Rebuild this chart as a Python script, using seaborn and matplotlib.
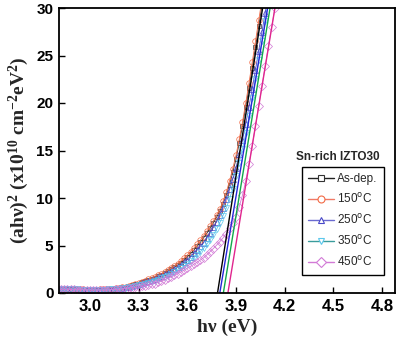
import numpy as np
import pandas as pd
import matplotlib
matplotlib.use("Agg")
import matplotlib.pyplot as plt
from matplotlib.lines import Line2D
import seaborn as sns

# Photon energy grid (eV) and Tauc-plot values (x10^10 cm^-2 eV^2)
energy = np.round(np.arange(2.80, 4.161, 0.02), 2)

as_dep = [0.45, 0.44, 0.43, 0.42, 0.41, 0.40, 0.39, 0.38, 0.37, 0.36,
          0.35, 0.35, 0.35, 0.36, 0.37, 0.39, 0.41, 0.44, 0.48, 0.53,
          0.58, 0.65, 0.73, 0.81, 0.90, 1.00, 1.11, 1.23, 1.35, 1.48,
          1.62, 1.77, 1.93, 2.10, 2.29, 2.48, 2.70, 2.94, 3.20, 3.48,
          3.80, 4.14, 4.50, 4.90, 5.33, 5.80, 6.28, 6.80, 7.36, 7.96,
          8.60, 9.40, 10.3, 11.4, 12.7, 14.1, 15.8, 17.6, 19.6, 21.6,
          23.7, 25.9, 28.1, 30.3, np.nan, np.nan, np.nan, np.nan, np.nan]

t150 = [0.45, 0.44, 0.43, 0.42, 0.41, 0.40, 0.39, 0.38, 0.37, 0.36,
        0.36, 0.36, 0.36, 0.37, 0.38, 0.40, 0.43, 0.46, 0.50, 0.55,
        0.60, 0.68, 0.76, 0.85, 0.95, 1.05, 1.17, 1.30, 1.43, 1.56,
        1.70, 1.86, 2.03, 2.20, 2.40, 2.60, 2.85, 3.10, 3.38, 3.68,
        4.00, 4.35, 4.72, 5.12, 5.55, 6.00, 6.50, 7.02, 7.58, 8.18,
        8.80, 9.65, 10.6, 11.8, 13.1, 14.5, 16.2, 18.0, 20.0, 22.1,
        24.3, 26.5, 28.7, 30.9, np.nan, np.nan, np.nan, np.nan, np.nan]

t250 = [0.44, 0.43, 0.42, 0.41, 0.40, 0.39, 0.38, 0.37, 0.36, 0.35,
        0.35, 0.34, 0.34, 0.35, 0.36, 0.38, 0.40, 0.43, 0.46, 0.50,
        0.55, 0.61, 0.68, 0.76, 0.85, 0.95, 1.05, 1.16, 1.27, 1.38,
        1.50, 1.64, 1.79, 1.95, 2.12, 2.30, 2.51, 2.74, 2.98, 3.24,
        3.50, 3.82, 4.17, 4.54, 4.92, 5.30, 5.80, 6.33, 6.90, 7.52,
        8.20, 9.00, 9.90, 10.9, 12.0, 13.2, 14.6, 16.1, 17.8, 19.6,
        21.5, 23.5, 25.5, 27.5, 29.5, 31.5, np.nan, np.nan, np.nan]

t350 = [0.43, 0.42, 0.41, 0.40, 0.39, 0.38, 0.37, 0.36, 0.35, 0.34,
        0.33, 0.33, 0.33, 0.33, 0.34, 0.35, 0.37, 0.39, 0.42, 0.46,
        0.50, 0.55, 0.61, 0.67, 0.73, 0.80, 0.89, 0.98, 1.08, 1.19,
        1.30, 1.42, 1.55, 1.69, 1.84, 2.00, 2.18, 2.37, 2.58, 2.83,
        3.10, 3.39, 3.70, 4.02, 4.35, 4.70, 5.14, 5.60, 6.10, 6.70,
        7.40, 8.15, 8.95, 9.90, 11.0, 12.3, 13.7, 15.2, 16.8, 18.6,
        20.5, 22.5, 24.5, 26.5, 28.6, 30.8, np.nan, np.nan, np.nan]

t450 = [0.42, 0.41, 0.40, 0.39, 0.38, 0.37, 0.36, 0.35, 0.34, 0.33,
        0.32, 0.31, 0.31, 0.31, 0.31, 0.32, 0.33, 0.35, 0.37, 0.40,
        0.43, 0.46, 0.50, 0.54, 0.58, 0.62, 0.69, 0.76, 0.84, 0.92,
        1.00, 1.12, 1.25, 1.39, 1.54, 1.70, 1.86, 2.03, 2.21, 2.40,
        2.60, 2.80, 3.02, 3.24, 3.47, 3.70, 4.02, 4.35, 4.68, 5.03,
        5.40, 5.80, 6.25, 6.80, 7.35, 8.00, 9.10, 10.3, 11.8, 13.6,
        15.5, 17.6, 19.7, 21.8, 23.9, 26.0, 28.0, 30.0, 32.0]

labels = ["As-dep.", "150$^{\\rm o}$C", "250$^{\\rm o}$C", "350$^{\\rm o}$C", "450$^{\\rm o}$C"]
series = [as_dep, t150, t250, t350, t450]
markers = ["s", "o", "^", "v", "D"]
marker_colors = ["#333333", "#f26a45", "#4848c8", "#5cc8ec", "#d27ad6"]
legend_line_colors = ["#222222", "#f07a66", "#6a6ad0", "#3a9c9c", "#d27ad6"]
marker_sizes = [3.4, 4.0, 4.0, 4.0, 3.8]

# Linear fits of the absorption edge: energy at zero and at 30
fit_low = [3.786, 3.800, 3.822, 3.850]
fit_high = [4.064, 4.095, 4.110, 4.140]
fit_y = [0, 30]
fit_colors = ["#000000", "#2525d8", "#12a84a", "#e0268e"]

sns.set_style("ticks")
plt.rcParams["font.family"] = ["Liberation Sans", "DejaVu Sans"]
plt.rcParams["mathtext.default"] = "regular"

fig = plt.figure(figsize=(4.0, 3.48), dpi=100)
ax = fig.add_axes([59 / 400, 1 - 293 / 348, 336 / 400, 285 / 348])

for vals, m, c, ms in zip(series, markers, marker_colors, marker_sizes):
    df = pd.DataFrame({"E": energy, "v": vals}).dropna()
    sns.lineplot(data=df, x="E", y="v", ax=ax, color=c, marker=m,
                 markersize=ms, markerfacecolor="none", markeredgecolor=c,
                 markeredgewidth=0.5, linewidth=0.6, estimator=None,
                 sort=False, legend=False)

for lo, hi, c in zip(fit_low, fit_high, fit_colors):
    sns.lineplot(x=[lo, hi], y=fit_y, ax=ax, color=c, linewidth=1.0,
                 estimator=None, sort=False, legend=False)

ax.set_xlim(2.809, 4.88)
ax.set_ylim(0, 30)
ax.set_xticks([3.0, 3.3, 3.6, 3.9, 4.2, 4.5, 4.8])
ax.set_yticks([0, 5, 10, 15, 20, 25, 30])
ax.set_xticklabels(["3.0", "3.3", "3.6", "3.9", "4.2", "4.5", "4.8"],
                   fontsize=12, fontweight="bold")
ax.set_yticklabels(["0", "5", "10", "15", "20", "25", "30"],
                   fontsize=11, fontweight="bold")
ax.tick_params(direction="in", length=4, width=1.0, pad=4, colors="black")
for s in ax.spines.values():
    s.set_visible(True)
    s.set_linewidth(1.3)
    s.set_color("black")

serif = {"family": ["Liberation Serif", "DejaVu Serif"], "weight": "bold", "size": 14}
ax.set_xlabel("h\u03bd (eV)", fontdict=serif, labelpad=4)
ax.set_ylabel("(ah\u03bd)$^2$ (x10$^{10}$ cm$^{-2}$eV$^2$)", fontdict=serif, labelpad=4)

handles = [Line2D([0], [0], color=lc, marker=m, markersize=5,
                  markerfacecolor="white", markeredgecolor=mc,
                  markeredgewidth=0.8, linewidth=1.0)
           for lc, mc, m in zip(legend_line_colors, marker_colors, markers)]
leg = ax.legend(handles, labels, loc="upper left",
                bbox_to_anchor=(302 / 400, 1 - 167 / 348),
                bbox_transform=fig.transFigure, borderaxespad=0,
                fontsize=8.5, frameon=True, fancybox=False, framealpha=1,
                edgecolor="black", handlelength=2.2, handletextpad=0.3,
                labelspacing=0.6, borderpad=0.5)
leg.get_frame().set_linewidth(1.0)

fig.text(338 / 400, 1 - 157.5 / 348, "Sn-rich IZTO30", ha="center",
         va="center", fontsize=8.5, fontweight="bold")

fig.savefig("out.png", dpi=100)
